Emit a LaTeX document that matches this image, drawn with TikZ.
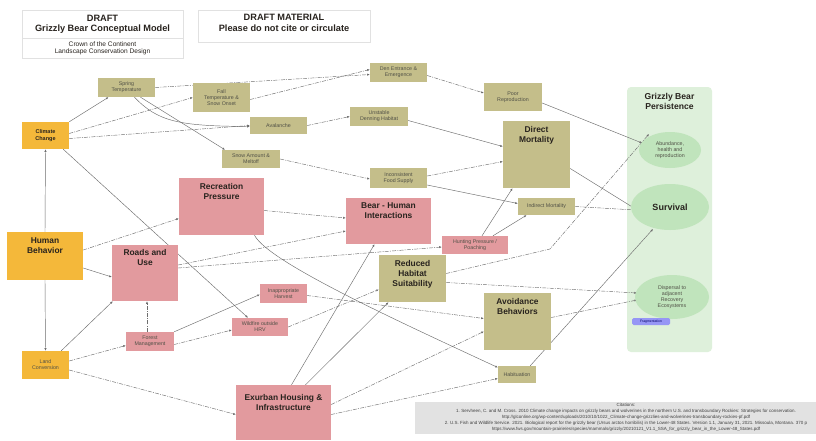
\documentclass[tikz,border=0pt]{standalone}
\usepackage{fontspec}
\setmainfont{Liberation Sans}
\usetikzlibrary{arrows.meta,shapes.geometric,backgrounds}
\definecolor{olive}{RGB}{196,190,138}
\definecolor{pinkc}{RGB}{226,154,158}
\definecolor{orangec}{RGB}{244,184,58}
\definecolor{panelg}{RGB}{222,240,219}
\definecolor{ellg}{RGB}{192,228,188}
\definecolor{badge}{RGB}{150,150,245}
\definecolor{citeg}{RGB}{226,226,226}
\definecolor{txtgray}{RGB}{80,80,70}
\definecolor{txtdark}{RGB}{40,35,30}
\definecolor{edgec}{RGB}{110,110,110}
\definecolor{hdrline}{RGB}{225,225,225}
\tikzset{
  box/.style={rectangle, inner sep=0pt, draw=none},
  obox/.style={box, fill=olive},
  pbox/.style={box, fill=pinkc},
  ybox/.style={box, fill=orangec},
  sz/.style 2 args={minimum width=#1pt, minimum height=#2pt},
  sm/.style={font=\fontsize{5.3}{6.1}\selectfont, text=txtgray, align=center},
  smb/.style={font=\bfseries\fontsize{5.5}{6.4}\selectfont, text=txtdark, align=center},
  bigtxt/.style={font=\bfseries\fontsize{8.4}{10}\selectfont, text=txtdark, align=center, inner sep=0pt},
  conn/.style={draw=edgec, line width=0.45pt, -{Latex[length=2.6pt,width=2.2pt]}},
  dconn/.style={conn, dash pattern=on 4pt off 1.2pt on 1pt off 1.2pt},
  hdr/.style={draw=hdrline, fill=white, line width=0.6pt},
}
\begin{document}
\begin{tikzpicture}[x=1pt,y=-1pt]
\useasboundingbox (0,0) rectangle (816,440);

% header
\draw[hdr] (22,10) rectangle (183,58);
\draw[hdrline, line width=0.6pt] (22,38) -- (183,38);
\node[font=\bfseries\fontsize{9.2}{10.4}\selectfont, text=txtdark, align=center] (hdra) at (102.5,24) {DRAFT\\Grizzly Bear Conceptual Model};
\node[font=\fontsize{6.6}{7.4}\selectfont, text=txtdark, align=center] (hdrb) at (102.5,48) {Crown of the Continent\\Landscape Conservation Design};
\draw[hdr] (198,10) rectangle (370,42);
\node[font=\bfseries\fontsize{9.2}{10.8}\selectfont, text=txtdark, align=center] (hdrc) at (284,23) {DRAFT MATERIAL\\Please do not cite or circulate};

% right panel ellipses
\node[font=\bfseries\fontsize{8.6}{10}\selectfont, text=txtdark, align=center] (ptitle) at (669.5,101) {Grizzly Bear\\Persistence};
\node[ellipse, fill=ellg, minimum width=62pt, minimum height=36pt, inner sep=0pt, sm] (abund) at (670,150) {Abundance,\\health and\\reproduction};
\node[ellipse, fill=ellg, minimum width=78pt, minimum height=46pt, inner sep=0pt, font=\bfseries\fontsize{9}{10}\selectfont, text=txtdark] (surv) at (670,207) {Survival};
\node[ellipse, fill=ellg, minimum width=74pt, minimum height=44pt, inner sep=0pt, sm] (disp) at (672,297) {Dispersal to\\adjacent\\Recovery\\Ecosystems};
\node[box, fill=badge, rounded corners=1.5pt, sz={38}{7}, font=\fontsize{3.4}{4}\selectfont, text=blue!40!black] (frag) at (651,321.5) {Fragmentation};

% small olive boxes
\node[obox, sm, sz={57}{19}] (spring) at (126.5,87.5) {Spring\\Temperature};
\node[obox, sm, sz={57}{29}] (fall) at (221.5,97.5) {Fall\\Temperature \&\\Snow Onset};
\node[obox, sm, sz={57}{17}] (aval) at (278.5,125.5) {Avalanche};
\node[obox, sm, sz={58}{18}] (snow) at (251,159) {Snow Amount \&\\Meltoff};
\node[obox, sm, sz={57}{19}] (den) at (398.5,72.5) {Den Entrance \&\\Emergence};
\node[obox, sm, sz={58}{19}] (unst) at (379,116.5) {Unstable\\Denning Habitat};
\node[obox, sm, sz={57}{20}] (food) at (398.5,178) {Inconsistent\\Food Supply};
\node[obox, sm, sz={58}{28}] (poor) at (513,97) {Poor\\Reproduction};
\node[obox, sm, sz={57}{17}] (indm) at (546.5,206.5) {Indirect Mortality};
\node[obox, sm, sz={38}{17}] (hab) at (517,374.5) {Habituation};

% big olive boxes
\node[obox, sz={67}{67}] (dm) at (536.5,154.5) {};
\node[bigtxt, anchor=north] (dmt) at ([yshift=-5pt]dm.north) {Direct\\Mortality};
\node[obox, sz={67}{47}] (rhs) at (412.5,278.5) {};
\node[bigtxt, anchor=north] (rhst) at ([yshift=-5pt]rhs.north) {Reduced\\Habitat\\Suitability};
\node[obox, sz={67}{57}] (avoid) at (517.5,321.5) {};
\node[bigtxt, anchor=north] (avoidt) at ([yshift=-5pt]avoid.north) {Avoidance\\Behaviors};

% orange boxes
\node[ybox, smb, sz={47}{27}] (cc) at (45.5,135.5) {Climate\\Change};
\node[ybox, sz={76}{48}] (hb) at (45,256) {};
\node[bigtxt, anchor=north] (hbt) at ([yshift=-6pt]hb.north) {Human\\Behavior};
\node[ybox, sm, sz={47}{28}] (lc) at (45.5,365) {Land\\Conversion};

% pink boxes
\node[pbox, sz={66}{56}] (roads) at (145,273) {};
\node[bigtxt, anchor=north] (roadst) at ([yshift=-4pt]roads.north) {Roads and\\Use};
\node[pbox, sz={85}{57}] (rec) at (221.5,206.5) {};
\node[bigtxt, anchor=north] (rect) at ([yshift=-5pt]rec.north) {Recreation\\Pressure};
\node[pbox, sz={85}{46}] (bhi) at (388.5,221) {};
\node[bigtxt, anchor=north] (bhit) at ([yshift=-5pt]bhi.north) {Bear - Human\\Interactions};
\node[pbox, sz={95}{55}] (ex) at (283.5,412.5) {};
\node[bigtxt, anchor=north] (ext) at ([yshift=-9pt]ex.north) {Exurban Housing \&\\Infrastructure};
\node[pbox, sm, sz={66}{18}] (hunt) at (475,245) {Hunting Pressure /\\Poaching};
\node[pbox, sm, sz={47}{19}] (ih) at (283.5,293.5) {Inappropriate\\Harvest};
\node[pbox, sm, sz={56}{18}] (wf) at (260,327) {Wildfire outside\\HRV};
\node[pbox, sm, sz={48}{19}] (fm) at (150,341.5) {Forest\\Management};

% citations
\node[font=\fontsize{4.5}{5.9}\selectfont, text=black!75, align=center, inner sep=0pt] (cite) at (626,417.5) {Citations:\\
1. Servheen, C. and M. Cross. 2010 Climate change impacts on grizzly bears and wolverines in the northern U.S. and transboundary Rockies: Strategies for conservation.\\
http://glconline.org/wp-content/uploads/2010/10/1022\_Climate-change-grizzlies-and-wolverines-transboundary-rockies-pf.pdf\\
2. U.S. Fish and Wildlife Service. 2021. Biological report for the grizzly bear (Ursus arctos horribilis) in the Lower-48 States. Version 1.1, January 31, 2021. Missoula, Montana. 370 p\\
https://www.fws.gov/mountain-prairie/es/species/mammals/grizzly/20210121\_V1.1\_SSA\_for\_grizzly\_bear\_in\_the\_Lower-48\_States.pdf};

\begin{pgfonlayer}{background}
\fill[white] (0,0) rectangle (816,440);
\fill[panelg, rounded corners=4pt] (627,87) rectangle (712,352);
\fill[citeg] (415,402) rectangle (816,434);
% connectors
\draw[conn] (hb.north) -- (cc.south);
\draw[conn] (hb.south) -- (lc.north);
\draw[dconn] ([yshift=6pt]hb.east) -- ([yshift=-12pt]rec.west);
\draw[conn] ([yshift=-12pt]hb.east) -- ([yshift=-4pt]roads.west);
\draw[conn] (cc.north east) -- ([xshift=-18pt]spring.south);
\draw[dconn] ([yshift=2pt]cc.east) -- (fall.west);
\draw[dconn] ([yshift=-3pt]cc.east) -- (aval.west);
\draw[conn] ([xshift=-6pt]cc.south east) -- ([xshift=-12pt]wf.north);
\draw[dconn] (spring.east) -- ([yshift=-2pt]den.west);
\draw[conn] ([xshift=8pt]spring.south) .. controls (158,122) and (180,126) .. ([yshift=-1pt]aval.west);
\draw[conn] ([xshift=14pt]spring.south) -- ([xshift=-26pt]snow.north);
\draw[dconn] ([yshift=-2pt]fall.east) -- ([yshift=3pt]den.west);
\draw[dconn] ([yshift=-3pt]den.east) -- ([yshift=4pt]poor.west);
\draw[dconn] (aval.east) -- (unst.west);
\draw[dconn] (snow.east) -- ([yshift=-1pt]food.west);
\draw[conn] ([yshift=-4pt]unst.east) -- ([yshift=8pt]dm.west);
\draw[dconn] ([yshift=2pt]food.east) -- ([yshift=-7pt]dm.west);
\draw[conn] ([yshift=-7pt]food.east) -- ([yshift=3pt]indm.west);
\draw[conn] ([yshift=-6pt]poor.east) -- ([xshift=-28pt,yshift=7pt]abund.center);
\draw[conn] ([yshift=-14pt]dm.east) -- ([xshift=-28pt,yshift=-6pt]surv.center);
\draw[dconn] (indm.east) -- ([xshift=-35pt,yshift=-3pt]surv.center);
\draw[dconn] ([yshift=-4pt]rec.east) -- ([yshift=3pt]bhi.west);
\draw[dconn] ([yshift=8pt]roads.east) -- ([yshift=-10pt]bhi.west);
\draw[dconn] ([yshift=5pt]roads.east) -- ([yshift=-2pt]hunt.west);
\draw[conn] ([xshift=33pt]rec.south) .. controls (268,262) and (400,322) .. ([yshift=7pt]hab.west);
\draw[conn] ([xshift=-8pt]lc.north east) -- ([xshift=1pt]roads.south west);
\draw[dconn] ([yshift=4pt]lc.east) -- ([yshift=-4pt]fm.west);
\draw[dconn] ([yshift=-5pt]lc.east) -- ([yshift=-2pt]ex.west);
\draw[dconn] ([xshift=-3pt]fm.north) -- ([xshift=2pt]roads.south);
\draw[dconn] ([yshift=-3pt]fm.east) -- ([yshift=-3pt]wf.west);
\draw[conn] (fm.north east) -- ([yshift=-1pt]ih.west);
\draw[dconn] ([yshift=-2pt]ih.east) -- ([yshift=3pt]avoid.west);
\draw[dconn] (wf.east) -- ([yshift=-11pt]rhs.west);
\draw[conn] ([xshift=8pt]ex.north) -- ([xshift=-14pt]bhi.south);
\draw[conn] ([xshift=22pt]ex.north) -- ([xshift=-24pt]rhs.south);
\draw[dconn] ([yshift=8pt]ex.east) -- ([yshift=-10pt]avoid.west);
\draw[dconn] ([yshift=-2pt]ex.east) -- ([yshift=-4pt]hab.west);
\draw[conn] ([xshift=-6pt]hab.north east) -- ([xshift=-17pt,yshift=-22pt]surv.center);
\draw[dconn] ([yshift=-4pt]rhs.east) -- ([xshift=-35pt,yshift=4pt]disp.center);
\draw[dconn] ([yshift=4pt]avoid.east) -- ([xshift=-35pt,yshift=-3pt]disp.center);
\draw[conn] ([xshift=7pt]hunt.north) -- ([xshift=-24pt]dm.south);
\draw[conn] ([xshift=18pt]hunt.north) -- ([xshift=-20pt]indm.south);
\draw[dconn] ([yshift=5pt]rhs.east) -- (550,249) -- ([xshift=-21pt,yshift=16pt]abund.center);
\end{pgfonlayer}
\end{tikzpicture}
\end{document}
